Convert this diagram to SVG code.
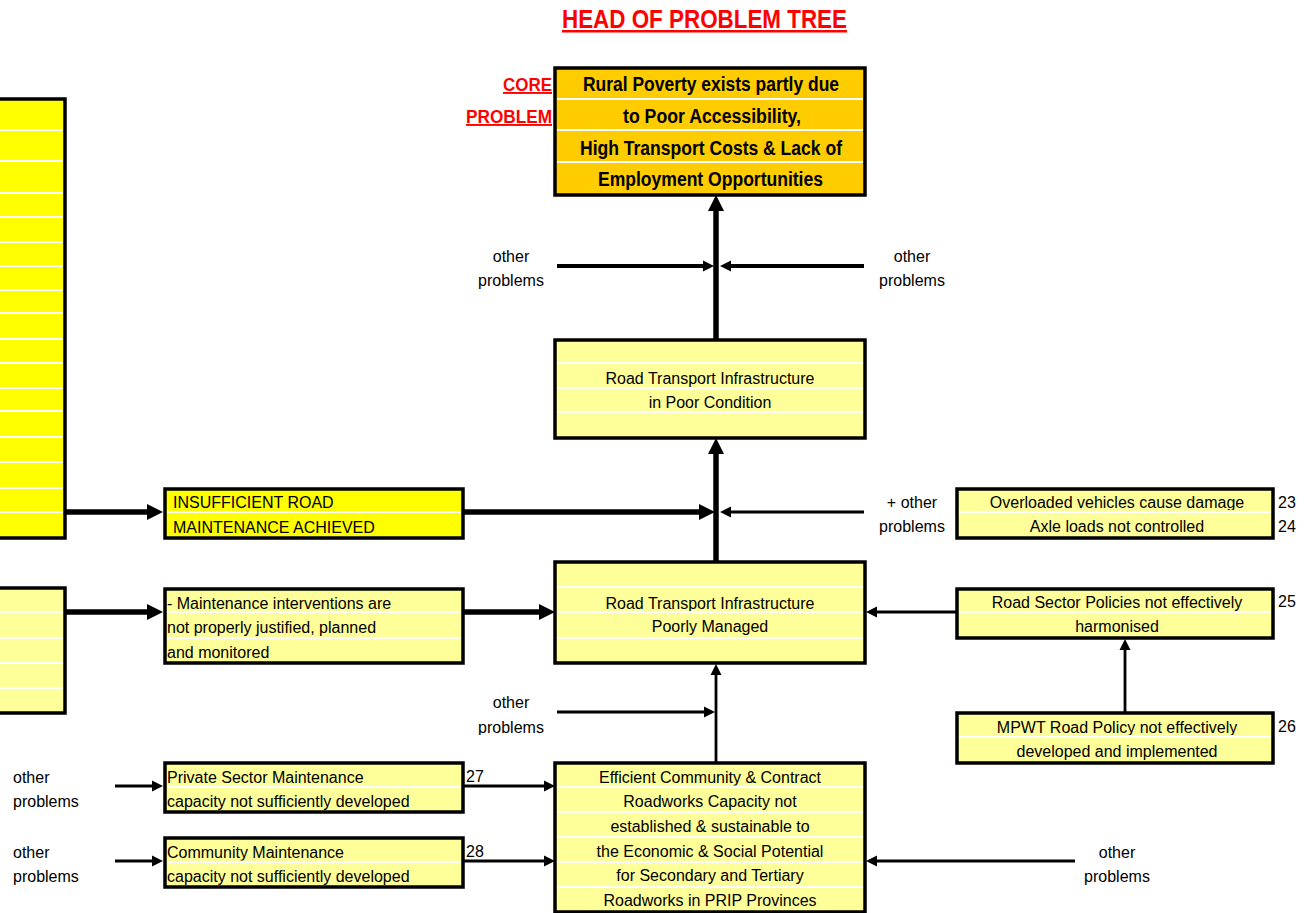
<svg xmlns="http://www.w3.org/2000/svg" width="1309" height="913" viewBox="0 0 1309 913">
  <style>
    .box{stroke:#000;stroke-width:3.5}
    .pale{fill:#FFFF99}
    .bright{fill:#FFFF00}
    .gold{fill:#FFCC00}
    .sep{stroke:#fff;stroke-width:2;fill:none}
    .t{font-family:"Liberation Sans",Arial,sans-serif;font-size:16px;fill:#000}
    .c{text-anchor:middle}
    .b{font-weight:bold}
    .red{fill:#FF0000;font-weight:bold;text-decoration:underline}
    .thick{stroke:#000;stroke-width:5.5;fill:none}
    .mid{stroke:#000;stroke-width:4;fill:none}
    .thin{stroke:#000;stroke-width:2.8;fill:none}
  </style>
  <defs>
    <marker id="head-l" markerUnits="userSpaceOnUse" markerWidth="16" markerHeight="16" refX="0" refY="8" orient="auto" overflow="visible">
      <path d="M-1,0 L15,8 L-1,16 Z" fill="#000"/>
    </marker>
    <marker id="head-s" markerUnits="userSpaceOnUse" markerWidth="11" markerHeight="11" refX="0" refY="5.5" orient="auto" overflow="visible">
      <path d="M-1,0 L10,5.5 L-1,11 Z" fill="#000"/>
    </marker>
    <clipPath id="clip-508"><rect x="0" y="480" width="1309" height="30"/></clipPath>
    <clipPath id="clip-609"><rect x="0" y="585" width="1309" height="26"/></clipPath>
    <clipPath id="clip-734"><rect x="0" y="710" width="1309" height="25"/></clipPath>
    <clipPath id="clip-783"><rect x="0" y="760" width="1309" height="25.5"/></clipPath>
    <clipPath id="clip-858"><rect x="0" y="835" width="1309" height="25.5"/></clipPath>
  </defs>

  <rect width="1309" height="913" fill="#fff"/>

  <!-- heading -->
  <g id="title">
    <text class="t red" x="562" y="28" font-size="25" textLength="285" lengthAdjust="spacingAndGlyphs" style="font-size:25px">HEAD OF PROBLEM TREE</text>
  </g>

  <g id="core-label">
    <text class="t red" x="503" y="91" textLength="49" lengthAdjust="spacingAndGlyphs" style="font-size:19px">CORE</text>
    <text class="t red" x="466" y="123" textLength="86" lengthAdjust="spacingAndGlyphs" style="font-size:19px">PROBLEM</text>
  </g>

  <!-- core problem -->
  <g id="core-problem">
    <rect class="box gold" x="555" y="68" width="310" height="127"/>
    <path class="sep" d="M557,99H863M557,130H863M557,162H863"/>
    <text class="t b" x="583" y="91" textLength="256" lengthAdjust="spacingAndGlyphs" style="font-size:20px">Rural Poverty exists partly due</text>
    <text class="t b" x="623" y="123" textLength="178" lengthAdjust="spacingAndGlyphs" style="font-size:20px">to Poor Accessibility,</text>
    <text class="t b" x="580" y="155" textLength="262" lengthAdjust="spacingAndGlyphs" style="font-size:20px">High Transport Costs &amp; Lack of</text>
    <text class="t b" x="598" y="186" textLength="225" lengthAdjust="spacingAndGlyphs" style="font-size:20px">Employment Opportunities</text>
  </g>

  <!-- left-hand cause columns -->
  <g id="left-cause-1">
    <rect class="box bright" x="-10" y="99" width="75" height="439"/>
    <path class="sep" d="M0,130H63M0,161H63M0,193H63M0,217H63M0,242H63M0,266H63M0,290H63M0,313H63M0,339H63M0,363H63M0,388H63M0,411H63M0,437H63M0,462H63M0,488H63M0,512H63"/>
  </g>

  <g id="left-cause-2">
    <rect class="box pale" x="-10" y="588" width="75" height="125"/>
    <path class="sep" d="M0,612H63M0,638H63M0,663H63M0,688H63"/>
  </g>

  <!-- road condition -->
  <g id="poor-condition">
    <rect class="box pale" x="555" y="340" width="310" height="98"/>
    <path class="sep" d="M557,363H863M557,388H863M557,412H863"/>
    <text class="t c" x="710" y="384">Road Transport Infrastructure</text>
    <text class="t c" x="710" y="408">in Poor Condition</text>
  </g>

  <g id="insufficient-maintenance">
    <rect class="box bright" x="165" y="489" width="298" height="49"/>
    <path class="sep" d="M167,512H461"/>
    <text class="t" x="173" y="508">INSUFFICIENT ROAD</text>
    <text class="t" x="173" y="533">MAINTENANCE ACHIEVED</text>
  </g>

  <g id="overloading">
    <rect class="box pale" x="957" y="489" width="316" height="49"/>
    <path class="sep" d="M959,512H1271"/>
    <text class="t c" x="1117" y="508" clip-path="url(#clip-508)">Overloaded vehicles cause damage</text>
    <text class="t c" x="1117" y="532">Axle loads not controlled</text>
    <text class="t" x="1278" y="508">23</text>
    <text class="t" x="1278" y="532">24</text>
  </g>

  <!-- management -->
  <g id="interventions">
    <rect class="box pale" x="165" y="589" width="298" height="74"/>
    <path class="sep" d="M167,612H461M167,638H461"/>
    <text class="t" x="167" y="609">- Maintenance interventions are</text>
    <text class="t" x="167" y="633">not properly justified, planned</text>
    <text class="t" x="167" y="658">and monitored</text>
  </g>

  <g id="poorly-managed">
    <rect class="box pale" x="555" y="562" width="310" height="101"/>
    <path class="sep" d="M557,587H863M557,612H863M557,638H863"/>
    <text class="t c" x="710" y="609" clip-path="url(#clip-609)">Road Transport Infrastructure</text>
    <text class="t c" x="710" y="632">Poorly Managed</text>
  </g>

  <g id="sector-policies">
    <rect class="box pale" x="957" y="589" width="316" height="49"/>
    <path class="sep" d="M959,612H1271"/>
    <text class="t c" x="1117" y="608" clip-path="url(#clip-609)">Road Sector Policies not effectively</text>
    <text class="t c" x="1117" y="632">harmonised</text>
    <text class="t" x="1278" y="607">25</text>
  </g>

  <g id="mpwt-policy">
    <rect class="box pale" x="957" y="713" width="316" height="50"/>
    <path class="sep" d="M959,737H1271"/>
    <text class="t c" x="1117" y="733" clip-path="url(#clip-734)">MPWT Road Policy not effectively</text>
    <text class="t c" x="1117" y="757">developed and implemented</text>
    <text class="t" x="1278" y="732">26</text>
  </g>

  <!-- roadworks capacity -->
  <g id="private-sector">
    <rect class="box pale" x="165" y="763" width="298" height="49"/>
    <path class="sep" d="M167,787H461"/>
    <text class="t" x="167" y="783">Private Sector Maintenance</text>
    <text class="t" x="167" y="807">capacity not sufficiently developed</text>
    <text class="t" x="466" y="782">27</text>
  </g>

  <g id="community">
    <rect class="box pale" x="165" y="838" width="298" height="49"/>
    <path class="sep" d="M167,862H461"/>
    <text class="t" x="167" y="858" clip-path="url(#clip-858)">Community Maintenance</text>
    <text class="t" x="167" y="882">capacity not sufficiently developed</text>
    <text class="t" x="466" y="857">28</text>
  </g>

  <g id="roadworks-capacity">
    <rect class="box pale" x="555" y="763" width="310" height="149"/>
    <path class="sep" d="M557,787H863M557,812H863M557,837H863M557,862H863M557,887H863"/>
    <text class="t c" x="710" y="783" clip-path="url(#clip-783)">Efficient Community &amp; Contract</text>
    <text class="t c" x="710" y="807">Roadworks Capacity not</text>
    <text class="t c" x="710" y="832">established &amp; sustainable to</text>
    <text class="t c" x="710" y="857">the Economic &amp; Social Potential</text>
    <text class="t c" x="710" y="881">for Secondary and Tertiary</text>
    <text class="t c" x="710" y="906">Roadworks in PRIP Provinces</text>
  </g>

  <!-- free-standing "other problems" inputs -->
  <g id="other-top-left">
    <text class="t c" x="511" y="262">other</text>
    <text class="t c" x="511" y="286">problems</text>
  </g>
  <g id="other-top-right">
    <text class="t c" x="912" y="262">other</text>
    <text class="t c" x="912" y="286">problems</text>
  </g>
  <g id="other-mid-right">
    <text class="t c" x="912" y="508">+ other</text>
    <text class="t c" x="912" y="532">problems</text>
  </g>
  <g id="other-mid-left">
    <text class="t c" x="511" y="708">other</text>
    <text class="t c" x="511" y="733" clip-path="url(#clip-734)">problems</text>
  </g>
  <g id="other-private">
    <text class="t" x="13" y="783">other</text>
    <text class="t" x="13" y="807">problems</text>
  </g>
  <g id="other-community">
    <text class="t" x="13" y="858">other</text>
    <text class="t" x="13" y="882">problems</text>
  </g>
  <g id="other-bottom-right">
    <text class="t c" x="1117" y="858">other</text>
    <text class="t c" x="1117" y="882">problems</text>
  </g>

  <!-- cause-and-effect connectors -->
  <g id="connectors">
    <path class="thick" d="M716,340V210" marker-end="url(#head-l)"/>
    <path class="mid" d="M557,266H704" marker-end="url(#head-s)"/>
    <path class="mid" d="M864,266H730" marker-end="url(#head-s)"/>
    <path class="thick" d="M716,562V453" marker-end="url(#head-l)"/>
    <path class="thick" d="M463,512H700" marker-end="url(#head-l)"/>
    <path class="thin" d="M864,512H730" marker-end="url(#head-s)"/>
    <path class="thick" d="M65,512H148" marker-end="url(#head-l)"/>
    <path class="thick" d="M65,612H148" marker-end="url(#head-l)"/>
    <path class="thick" d="M463,612H540" marker-end="url(#head-l)"/>
    <path class="thin" d="M957,612H876" marker-end="url(#head-s)"/>
    <path class="thin" d="M1125,712V649" marker-end="url(#head-s)"/>
    <path class="thin" d="M716,762V674" marker-end="url(#head-s)"/>
    <path class="thin" d="M557,712H705" marker-end="url(#head-s)"/>
    <path class="thin" d="M115,786H153" marker-end="url(#head-s)"/>
    <path class="thin" d="M463,786H545" marker-end="url(#head-s)"/>
    <path class="thin" d="M115,861H153" marker-end="url(#head-s)"/>
    <path class="thin" d="M463,861H545" marker-end="url(#head-s)"/>
    <path class="thin" d="M1075,861H876" marker-end="url(#head-s)"/>
  </g>
</svg>
